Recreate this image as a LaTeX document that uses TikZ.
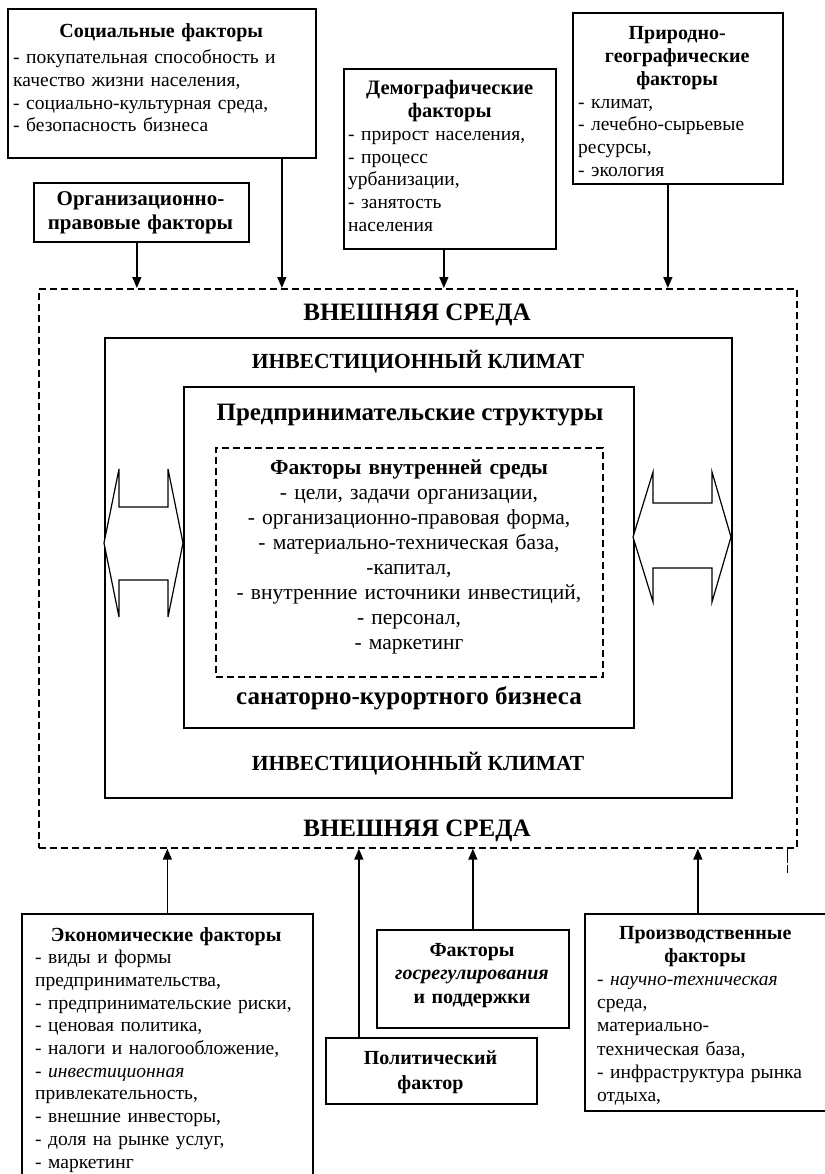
\documentclass[tikz,border=0pt]{standalone}
\usepackage{fontspec}
\setmainfont{Liberation Serif}
\usetikzlibrary{arrows.meta,calc}

\begin{document}
\begin{tikzpicture}[x=1pt,y=-1pt,
  box/.style={draw, line width=1.7pt, inner sep=0pt, anchor=north west},
  dbox/.style={draw, line width=1.7pt, dash pattern=on 7pt off 4pt, inner sep=0pt, anchor=north west},
  txt/.style={inner sep=0pt, anchor=base west, text width=400pt, align=left, font=\fontsize{19.5}{22.7}\selectfont},
  ctxt/.style={inner sep=0pt, anchor=base, align=center, font=\bfseries\fontsize{20}{23.5}\selectfont},
  inner/.style={inner sep=0pt, anchor=base, align=center, text width=380pt, font=\fontsize{21.5}{25}\selectfont},
  big/.style={inner sep=0pt, anchor=base, font=\bfseries\fontsize{25}{30}\selectfont},
  mid/.style={inner sep=0pt, anchor=base, font=\bfseries\fontsize{21.5}{26}\selectfont},
  ent/.style={inner sep=0pt, anchor=base, font=\bfseries\fontsize{25}{30}\selectfont},
  arr/.style={line width=1.5pt, -{Triangle[length=11pt,width=9pt]}},
  barrow/.style={draw, line width=1.2pt, fill=white, line join=miter},
  tick/.style={line width=1.2pt, dash pattern=on 14pt off 2pt on 8pt}
]
\useasboundingbox (0,0) rectangle (824,1174);

% ---- central nested frames
\node[dbox, minimum width=758pt, minimum height=559pt] (ext) at (38,288) {};
\node[box, minimum width=627pt, minimum height=460pt] (inv) at (104,337) {};
\node[box, minimum width=450pt, minimum height=341pt] (ent) at (183,386) {};
\node[dbox, minimum width=387pt, minimum height=229pt] (int) at (215,447) {};

\node[big] (extT) at (417,320) {ВНЕШНЯЯ СРЕДА};
\node[big] (extB) at (417,836) {ВНЕШНЯЯ СРЕДА};
\node[mid] (invT) at (418,368) {ИНВЕСТИЦИОННЫЙ КЛИМАТ};
\node[mid] (invB) at (418,770) {ИНВЕСТИЦИОННЫЙ КЛИМАТ};
\node[ent] (entT) at (410,420) {Предпринимательские структуры};
\node[ent] (entB) at (409,704) {санаторно-курортного бизнеса};
\node[inner] (intT) at (409,474) {\textbf{Факторы внутренней среды}\\
- цели, задачи организации,\\
- организационно-правовая форма,\\
- материально-техническая база,\\
-капитал,\\
- внутренние источники инвестиций,\\
- персонал,\\
- маркетинг};

% ---- double block arrows
\draw[barrow] (104,543) -- (119,469) -- (119,507) -- (168,507) -- (168,469) -- (183,543)
  -- (168,617) -- (168,580) -- (119,580) -- (119,617) -- cycle;
\draw[barrow] (633,537) -- (653,472) -- (653,503) -- (712,503) -- (712,472) -- (731,537)
  -- (712,602) -- (712,568) -- (653,568) -- (653,602) -- cycle;

% ---- top factor boxes
\node[box, minimum width=308pt, minimum height=149pt] (soc) at (7,8) {};
\node[txt] (socT) at (13,38) {\makebox[296pt]{\bfseries\fontsize{20}{22.7}\selectfont Социальные факторы}\\[3pt]
- покупательная способность и\\
качество жизни населения,\\
- социально-культурная среда,\\
- безопасность бизнеса};

\node[box, minimum width=215pt, minimum height=59pt] (org) at (33,182) {};
\node[ctxt, text width=215pt, font=\bfseries\fontsize{21}{24}\selectfont] (orgT) at (140.5,206) {Организационно-\\правовые факторы};

\node[box, minimum width=212pt, minimum height=180pt] (dem) at (343,68) {};
\node[txt] (demT) at (348,95) {\makebox[203pt]{\bfseries\fontsize{20.5}{22.7}\selectfont Демографические}\\
\makebox[203pt]{\bfseries\fontsize{20.5}{22.7}\selectfont факторы}\\
- прирост населения,\\
- процесс\\
урбанизации,\\
- занятость\\
населения};

\node[box, minimum width=210pt, minimum height=171pt] (nat) at (572,12) {};
\node[txt] (natT) at (578,40) {\makebox[198pt]{\bfseries\fontsize{20}{22.7}\selectfont Природно-}\\
\makebox[198pt]{\bfseries\fontsize{20}{22.7}\selectfont географические}\\
\makebox[198pt]{\bfseries\fontsize{20}{22.7}\selectfont факторы}\\
- климат,\\
- лечебно-сырьевые\\
ресурсы,\\
- экология};

% ---- bottom factor boxes
\node[box, minimum width=291pt, minimum height=290pt] (eco) at (21,913) {};
\node[txt] (ecoT) at (35,941) {\makebox[262pt]{\bfseries\fontsize{20}{22.7}\selectfont Экономические факторы}\\
- виды и формы\\
предпринимательства,\\
- предпринимательские риски,\\
- ценовая политика,\\
- налоги и налогообложение,\\
- \textit{инвестиционная}\\
привлекательность,\\
- внешние инвесторы,\\
- доля на рынке услуг,\\
- маркетинг};

\node[box, minimum width=192pt, minimum height=98pt] (gos) at (376,929) {};
\node[ctxt, text width=192pt] (gosT) at (472,956) {Факторы\\\textit{госрегулирования}\\и поддержки};

\node[box, minimum width=211pt, minimum height=66pt] (pol) at (325,1037) {};
\node[ctxt, text width=211pt, font=\bfseries\fontsize{20}{25}\selectfont] (polT) at (430.5,1064) {Политический\\фактор};

\node[box, minimum width=242pt, minimum height=197pt] (prd) at (584,913) {};
\node[txt, font=\fontsize{19.5}{23.2}\selectfont] (prdT) at (597,939) {\makebox[216pt]{\bfseries\fontsize{20}{23.2}\selectfont Производственные}\\
\makebox[216pt]{\bfseries\fontsize{20}{23.2}\selectfont факторы}\\
- \textit{научно-техническая}\\
среда,\\
материально-\\
техническая база,\\
- инфраструктура рынка\\
отдыха,};

% ---- connectors
\draw[arr] ([xshift=120pt]soc.south) -- ([xshift=120pt]soc.south |- ext.north);
\draw[arr] ([xshift=-4.5pt]org.south) -- ([xshift=-4.5pt]org.south |- ext.north);
\draw[arr] ([xshift=-6pt]dem.south) -- ([xshift=-6pt]dem.south |- ext.north);
\draw[arr] ([xshift=-10pt]nat.south) -- ([xshift=-10pt]nat.south |- ext.north);

\draw[arr] (eco.north) -- (eco.north |- ext.south);
\draw[arr] ([xshift=-72.5pt]pol.north) -- ([xshift=-72.5pt]pol.north |- ext.south);
\draw[arr] (gos.north) -- (gos.north |- ext.south);
\draw[arr] ([xshift=-8pt]prd.north) -- ([xshift=-8pt]prd.north |- ext.south);

\coordinate (tk) at ([xshift=-10pt]ext.south east);
\draw[tick] (tk) -- ++(0,27);
\end{tikzpicture}
\end{document}
